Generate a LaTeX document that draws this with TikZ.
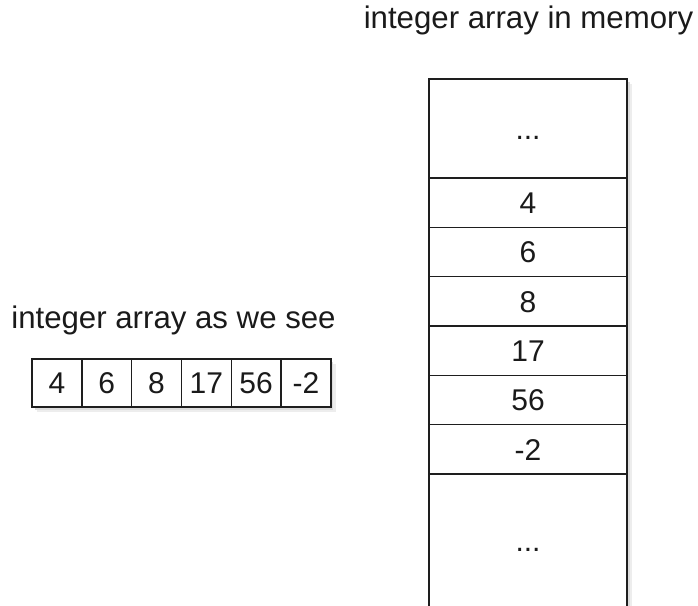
\documentclass[tikz,border=0pt]{standalone}
\usepackage{fontspec}
\setmainfont{Liberation Sans}
\usetikzlibrary{calc,backgrounds}
\definecolor{arr-line}{HTML}{1E1E1E}
\definecolor{arr-text}{HTML}{1A1A1A}
\definecolor{arr-shadow}{HTML}{DCDCDC}

\begin{document}
\begin{tikzpicture}[x=1pt, y=-1pt,
    cell/.style={draw=arr-line, line width=1.4pt, fill=white, inner sep=0pt, outer sep=0pt,
        text height=21.5pt, text depth=0pt, font=\fontsize{30}{35}\selectfont, text=arr-text},
    title/.style={anchor=base, inner sep=0pt, font=\fontsize{31.2}{36}\selectfont, text=arr-text}]
    \useasboundingbox (0,0) rectangle (698,605);
    \clip (0,0) rectangle (698,605);
    % Left: the array as we see it
    \node[title] (seelabel) at (173.5,328) {integer array as we see};
    \foreach \val [count=\i] in {4,6,8,17,56,-2}
        \node[cell, minimum width=49.8pt, minimum height=48pt, anchor=north west] (see\i) at ({32+(\i-1)*49.8},359) {\val};
    % Right: the same array in memory
    \node[title] (memlabel) at (528.5,28) {integer array in memory};
    \node[cell, minimum width=198pt, minimum height=99pt, anchor=north west] (memtop) at (429,79) {...};
    \foreach \val [count=\i] in {4,6,8,17,56,-2}
        \node[cell, minimum width=198pt, minimum height=49.33pt, anchor=north west] (mem\i) at (429,{178+(\i-1)*49.33}) {\val};
    \node[cell, minimum width=198pt, minimum height=134pt, anchor=north west] (membot) at (429,474) {...};
    % soft shadows
    \begin{scope}[on background layer]
        \fill[arr-shadow!50] ($(see1.north west)+(5,5)$) rectangle ($(see6.south east)+(5,5)$);
        \fill[arr-shadow] ($(see1.north west)+(2.5,2.5)$) rectangle ($(see6.south east)+(2.5,2.5)$);
        \fill[arr-shadow!50] ($(memtop.north west)+(5,5)$) rectangle ($(membot.south east)+(5,5)$);
        \fill[arr-shadow] ($(memtop.north west)+(2.5,2.5)$) rectangle ($(membot.south east)+(2.5,2.5)$);
    \end{scope}
\end{tikzpicture}
\end{document}
